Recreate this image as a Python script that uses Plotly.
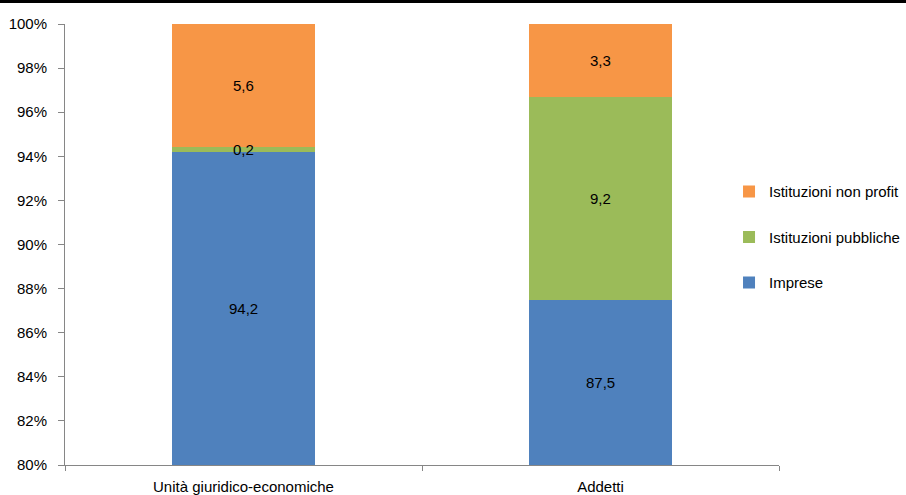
import plotly.graph_objects as go

# Composition by sector (percent shares)
categories = ["Unità giuridico-economiche", "Addetti"]
imprese = [94.2, 87.5]
pubbliche = [0.2, 9.2]
nonprofit = [5.6, 3.3]
y_ticks = [80, 82, 84, 86, 88, 90, 92, 94, 96, 98, 100]
y_tick_labels = [f"{v}%" for v in y_ticks]

series = [
    ("Imprese", imprese, "#4F81BD", 3),
    ("Istituzioni pubbliche", pubbliche, "#9BBB59", 2),
    ("Istituzioni non profit", nonprofit, "#F79646", 1),
]

FONT = "Liberation Sans, Arial, sans-serif"
FS = 15
Y_MIN, Y_MAX = 80, 100

fig = go.Figure()
for name, vals, color, rank in series:
    fig.add_trace(go.Bar(
        x=categories, y=vals, name=name, legendgroup=name, legendrank=rank,
        marker=dict(color=color, line=dict(width=0)),
        width=0.4,
    ))

# Value labels centred on the visible part of each segment
annotations = []
for i, cat in enumerate(categories):
    bottom = 0.0
    for name, vals, color, rank in series:
        top = bottom + vals[i]
        lo = max(bottom, Y_MIN)
        mid = (lo + top) / 2
        annotations.append(dict(
            x=cat, y=mid, xref="x", yref="y",
            text=f"{vals[i]:.1f}".replace(".", ","),
            showarrow=False, font=dict(family=FONT, size=FS, color="#000000"),
        ))
        bottom = top

fig.update_layout(
    barmode="stack",
    width=906, height=495,
    margin=dict(l=65, r=127, t=24, b=30, autoexpand=False),
    paper_bgcolor="white", plot_bgcolor="white",
    font=dict(family=FONT, size=FS, color="#000000"),
    showlegend=True,
    legend=dict(
        x=0.930, xanchor="left", y=0.657, yanchor="top",
        traceorder="grouped", tracegroupgap=23,
        font=dict(family=FONT, size=FS, color="#000000"),
        itemwidth=30, bgcolor="rgba(0,0,0,0)",
    ),
    annotations=annotations,
)
fig.update_xaxes(
    showline=True, linecolor="#868686", linewidth=1,
    ticks="outside", tickson="boundaries", ticklen=5, tickcolor="#868686",
    showgrid=False, tickfont=dict(family=FONT, size=FS), ticklabelstandoff=8,
)
fig.update_yaxes(
    range=[Y_MIN, Y_MAX], tickvals=y_ticks, ticktext=y_tick_labels,
    showline=True, linecolor="#868686", linewidth=1,
    ticks="outside", ticklen=6, tickcolor="#868686",
    showgrid=False, zeroline=False, tickfont=dict(family=FONT, size=FS),
    ticklabelstandoff=8,
)

# Heavy rule along the top edge of the page
fig.add_shape(
    type="line", xref="paper", yref="paper",
    x0=-65 / 714, x1=1 + 127 / 714, y0=(465 - 1.5) / 441, y1=(465 - 1.5) / 441,
    line=dict(color="black", width=3),
)

fig.write_html("out.html")
